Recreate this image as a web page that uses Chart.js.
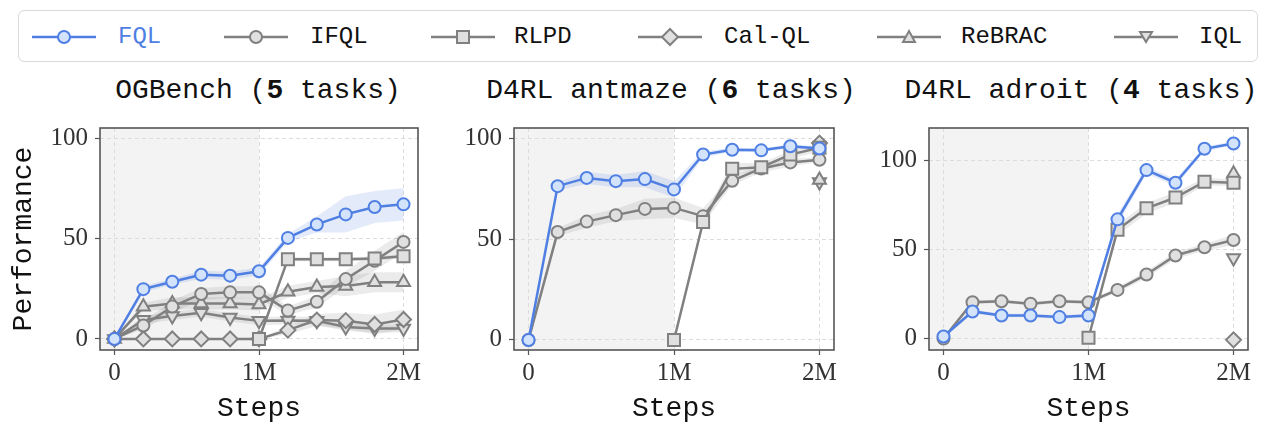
<!DOCTYPE html>
<html>
<head>
<meta charset="utf-8">
<script src="https://cdn.jsdelivr.net/npm/chart.js@4.4.1/dist/chart.umd.min.js"></script>
<style>
  body { margin: 0; background: #fff; width: 1270px; height: 425px; position: relative; overflow: hidden; }
  .legend { position: absolute; left: 18px; top: 10px; width: 1238px; height: 50px; border: 1.5px solid #dadada; border-radius: 6px; }
  .lg-item { position: absolute; top: 25px; font: 24px "Liberation Mono", monospace; line-height: 24px; color: #111; }
  .lg-mark { position: absolute; top: 27px; }
  .ptitle { position: absolute; top: 75px; width: 420px; text-align: center; font: 28px "Liberation Mono", monospace; line-height: 32px; color: #111; white-space: nowrap; }
  canvas { position: absolute; }
</style>
</head>
<body>
<div class="legend"></div>
<div id="legendItems"></div>
<div class="ptitle" style="left:48px">OGBench (<b>5</b> tasks)</div>
<div class="ptitle" style="left:461px">D4RL antmaze (<b>6</b> tasks)</div>
<div class="ptitle" style="left:871px">D4RL adroit (<b>4</b> tasks)</div>
<canvas id="c1" width="430" height="319" style="left:0px;top:106px"></canvas>
<canvas id="c2" width="406" height="319" style="left:440px;top:106px"></canvas>
<canvas id="c3" width="400" height="319" style="left:860px;top:106px"></canvas>
<script>
// steps in millions
const steps = [0, 0.2, 0.4, 0.6, 0.8, 1.0, 1.2, 1.4, 1.6, 1.8, 2.0];
const xTicks = [0, 1, 2];
const xTickLabels = ["0", "1M", "2M"];
const yTicks = [0, 50, 100];
const seriesNames = ["FQL", "IFQL", "RLPD", "Cal-QL", "ReBRAC", "IQL"];

// OGBench
const ogFQL = [0, 24.8, 28.5, 32, 31.5, 33.7, 50.3, 57, 62, 65.7, 67];
const ogIFQL = [0, 6.7, 16.1, 22.4, 23.2, 23.2, 14.1, 18.5, 29.8, 38.9, 48.3];
const ogRLPD = [null, null, null, null, null, 0, 39.7, 39.7, 39.7, 40, 41.2];
const ogCalQL = [0, 0, 0, 0, 0, 0, 4.4, 9.4, 9.1, 7.2, 9.7];
const ogReBRAC = [0, 16, 17.7, 17.7, 17.7, 17.2, 23.5, 25.9, 26.3, 28.2, 28.2];
const ogIQL = [0, 9.5, 11.4, 13, 10.7, 9, 9.2, 9, 6, 5.2, 5.2];
const ogFQLErr = [0, 1.5, 1.5, 2, 2, 2, 2, 4, 9, 8, 8];
const ogIFQLErr = [0, 2, 3, 3, 3, 3, 2, 3, 4, 5, 5];
const ogRLPDErr = [null, null, null, null, null, 0, 1, 1, 1, 1, 1];
const ogCalQLErr = [0, 0, 0, 0, 0, 0, 2, 3, 4, 5, 5];
const ogReBRACErr = [0, 2, 3, 3, 3, 3, 3, 3, 5, 5, 5];
const ogIQLErr = [0, 2, 2, 2, 2, 2, 2, 2, 2, 2, 2];

// D4RL antmaze
const amFQL = [0, 76.4, 80.5, 78.9, 79.9, 74.8, 92.1, 94.5, 94.2, 96.2, 95.1];
const amIFQL = [0, 53.6, 58.8, 62, 65.1, 65.6, 61.5, 79.1, 85.2, 88.2, 89.5];
const amRLPD = [null, null, null, null, null, 0, 58.6, 85, 85.8, 92.1, 95.5];
const amCalQL = [null, null, null, null, null, null, null, null, null, null, 97.8];
const amReBRAC = [null, null, null, null, null, null, null, null, null, null, 79.5];
const amIQL = [null, null, null, null, null, null, null, null, null, null, 78.5];
const amFQLErr = [0, 2, 3, 3, 4, 4, 1.5, 1, 1, 1, 1];
const amIFQLErr = [0, 2, 3, 3, 5, 5, 4, 2, 2, 2, 1];
const amRLPDErr = [null, null, null, null, null, 0, 2, 3, 2, 2, 2];

// D4RL adroit
const adFQL = [1.2, 15.3, 13, 13, 12.1, 13, 67.1, 94.8, 87.7, 106.8, 109.8];
const adIFQL = [0, 20.5, 21, 19.6, 21, 20.5, 27.4, 36.1, 46.8, 51.4, 55.5];
const adRLPD = [null, null, null, null, null, 0.5, 61.2, 73.3, 79.4, 88.3, 87.7];
const adCalQL = [null, null, null, null, null, null, null, null, null, null, -0.7];
const adReBRAC = [null, null, null, null, null, null, null, null, null, null, 92.7];
const adIQL = [null, null, null, null, null, null, null, null, null, null, 45.4];
const adFQLErr = [0, 1, 1, 1, 1, 1, 3, 2, 2, 1.5, 1];
const adIFQLErr = [0, 1, 1, 1, 1, 1, 1.5, 2, 2, 2, 3];
const adRLPDErr = [null, null, null, null, null, 0, 3, 3, 3, 2, 2];

const BLUE = "#4f7fe3";
const GRAY = "#808080";
const styles = {
  "FQL":    { color: BLUE, fill: "#d2e3fb", band: "rgba(79,127,227,0.16)", pointStyle: "circle", radius: 6, rot: 0, order: 0 },
  "IFQL":   { color: GRAY, fill: "#e0e0e0", band: "rgba(128,128,128,0.16)", pointStyle: "circle", radius: 6, rot: 0, order: 3 },
  "RLPD":   { color: GRAY, fill: "#e0e0e0", band: "rgba(128,128,128,0.16)", pointStyle: "rect", radius: 8.5, rot: 0, order: 2 },
  "Cal-QL": { color: GRAY, fill: "#e0e0e0", band: "rgba(128,128,128,0.16)", pointStyle: "rectRot", radius: 7.5, rot: 0, order: 5 },
  "ReBRAC": { color: GRAY, fill: "#e0e0e0", band: "rgba(128,128,128,0.16)", pointStyle: "triangle", radius: 7.5, rot: 0, order: 4 },
  "IQL":    { color: GRAY, fill: "#e0e0e0", band: "rgba(128,128,128,0.16)", pointStyle: "triangle", radius: 7.5, rot: 180, order: 6 },
};

// offline phase shading, axes frame
const panelDecor = {
  id: "panelDecor",
  beforeDraw(chart) {
    const { ctx, chartArea: a, scales } = chart;
    const x1 = scales.x.getPixelForValue(1);
    ctx.save();
    ctx.fillStyle = "#f3f3f3";
    ctx.fillRect(a.left, a.top, x1 - a.left, a.bottom - a.top);
    ctx.restore();
  },
  afterDraw(chart) {
    const { ctx, chartArea: a } = chart;
    ctx.save();
    ctx.strokeStyle = "#555";
    ctx.lineWidth = 1.6;
    ctx.strokeRect(a.left, a.top, a.right - a.left, a.bottom - a.top);
    ctx.restore();
  },
};

function toPoints(vals) {
  return steps.map((x, i) => ({ x, y: vals[i] == null ? null : vals[i] }));
}

function buildDatasets(series) {
  const ds = [];
  Object.keys(series).forEach((name) => {
    const [vals, err] = series[name];
    const st = styles[name];
    if (err) {
      const up = steps.map((x, i) => ({ x, y: vals[i] == null ? null : vals[i] + err[i] }));
      const lo = steps.map((x, i) => ({ x, y: vals[i] == null ? null : vals[i] - err[i] }));
      ds.push({ data: up, borderWidth: 0, pointRadius: 0, fill: false, order: 20 });
      ds.push({ data: lo, borderWidth: 0, pointRadius: 0, fill: "-1", backgroundColor: st.band, order: 20 });
    }
    ds.push({
      label: name,
      data: toPoints(vals),
      borderColor: st.color,
      borderWidth: 2.5,
      pointStyle: st.pointStyle,
      pointRadius: st.radius,
      pointRotation: st.rot,
      pointBorderWidth: 2,
      pointBorderColor: st.color,
      pointBackgroundColor: st.fill,
      fill: false,
      order: st.order,
    });
  });
  return ds;
}

function makePanel(id, series, yMin, yMax, yWidth, yTitle) {
  new Chart(document.getElementById(id), {
    type: "line",
    data: { datasets: buildDatasets(series) },
    options: {
      responsive: false,
      animation: false,
      events: [],
      layout: { padding: { top: 10, right: 12, left: 0, bottom: 0 } },
      plugins: { legend: { display: false }, tooltip: { enabled: false } },
      scales: {
        x: {
          type: "linear",
          min: -0.1,
          max: 2.1,
          afterBuildTicks: (s) => { s.ticks = xTicks.map((v) => ({ value: v })); },
          afterFit: (s) => { s.height = 75; },
          ticks: {
            callback: (v, i) => xTickLabels[i],
            font: { family: "Liberation Serif", size: 25 },
            color: "#333",
            padding: 3,
            maxRotation: 0,
            autoSkip: false,
          },
          grid: { color: "#dcdcdc", lineWidth: 1, tickLength: 5, tickColor: "#555", tickWidth: 1.2 },
          border: { display: false, dash: [4, 3] },
          title: { display: true, text: "Steps", font: { family: "Liberation Mono", size: 28 }, color: "#111", padding: { top: 0, bottom: 0 } },
        },
        y: {
          type: "linear",
          min: yMin,
          max: yMax,
          afterBuildTicks: (s) => { s.ticks = yTicks.map((v) => ({ value: v })); },
          afterFit: (s) => { s.width = yWidth; },
          ticks: {
            font: { family: "Liberation Serif", size: 25 },
            color: "#333",
            padding: 7,
          },
          grid: { color: "#dcdcdc", lineWidth: 1, tickLength: 5, tickColor: "#555", tickWidth: 1.2 },
          border: { display: false, dash: [4, 3] },
          title: { display: !!yTitle, text: yTitle || "", font: { family: "Liberation Mono", size: 28 }, color: "#111", padding: { top: 7, bottom: 0 } },
        },
      },
    },
    plugins: [panelDecor],
  });
}

makePanel("c1", {
  "Cal-QL": [ogCalQL, ogCalQLErr],
  "IQL": [ogIQL, ogIQLErr],
  "ReBRAC": [ogReBRAC, ogReBRACErr],
  "IFQL": [ogIFQL, ogIFQLErr],
  "RLPD": [ogRLPD, ogRLPDErr],
  "FQL": [ogFQL, ogFQLErr],
}, -5.5, 105, 100, "Performance");

makePanel("c2", {
  "Cal-QL": [amCalQL, null],
  "IQL": [amIQL, null],
  "ReBRAC": [amReBRAC, null],
  "IFQL": [amIFQL, amIFQLErr],
  "RLPD": [amRLPD, amRLPDErr],
  "FQL": [amFQL, amFQLErr],
}, -5, 105.3, 74, null);

makePanel("c3", {
  "Cal-QL": [adCalQL, null],
  "IQL": [adIQL, null],
  "ReBRAC": [adReBRAC, null],
  "IFQL": [adIFQL, adIFQLErr],
  "RLPD": [adRLPD, adRLPDErr],
  "FQL": [adFQL, adFQLErr],
}, -6.4, 118.5, 69, null);

// legend (HTML + small svg markers)
const legendLineX = [32, 224, 431, 638, 877, 1114];
const legendTextX = [118, 310, 514, 724, 961, 1199];

function markerSvg(st) {
  const c = `stroke="${st.color}" stroke-width="2" fill="${st.fill}"`;
  let shape = "";
  if (st.pointStyle === "circle") shape = `<circle cx="32" cy="10" r="6" ${c}/>`;
  else if (st.pointStyle === "rect") shape = `<rect x="26" y="4" width="12" height="12" ${c}/>`;
  else if (st.pointStyle === "rectRot") shape = `<polygon points="32,2 40,10 32,18 24,10" ${c}/>`;
  else if (st.rot === 180) shape = `<polygon points="26,5 38,5 32,15" ${c}/>`;
  else shape = `<polygon points="32,4 38,15 26,15" ${c}/>`;
  return `<svg width="64" height="20"><line x1="0" y1="10" x2="64" y2="10" stroke="${st.color}" stroke-width="2.5"/>${shape}</svg>`;
}

const legendBox = document.getElementById("legendItems");
seriesNames.forEach((name, i) => {
  const st = styles[name];
  const m = document.createElement("div");
  m.className = "lg-mark";
  m.style.left = legendLineX[i] + "px";
  m.innerHTML = markerSvg(st);
  legendBox.appendChild(m);
  const t = document.createElement("div");
  t.className = "lg-item";
  t.style.left = legendTextX[i] + "px";
  t.style.color = name === "FQL" ? st.color : "#111";
  t.textContent = name;
  legendBox.appendChild(t);
});
</script>
</body>
</html>
